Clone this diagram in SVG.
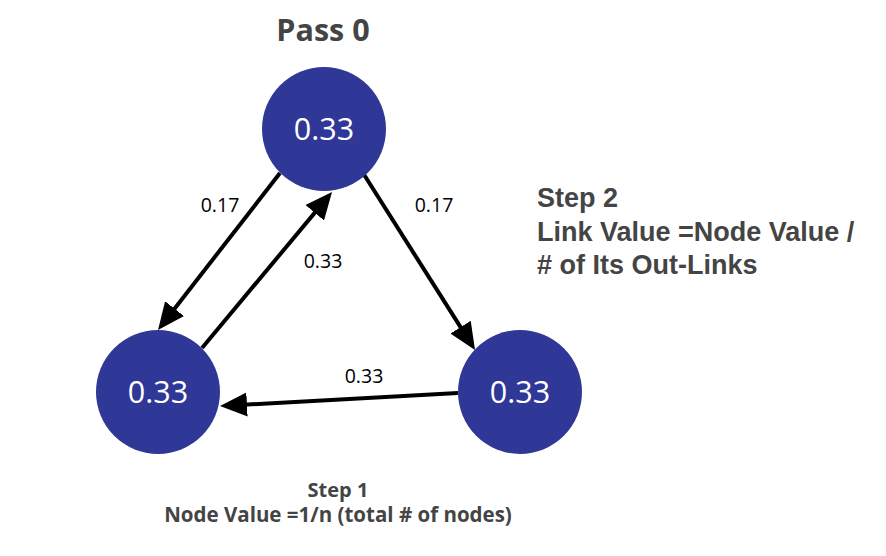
<svg xmlns="http://www.w3.org/2000/svg" width="886" height="556" viewBox="0 0 886 556">
<style>
.node{fill:#2f3797}
.ntext{font-family:"Open Sans",sans-serif;font-size:30.5px;fill:#ffffff;text-anchor:middle}
.edge{stroke:#000;stroke-width:4;fill:none}
.elabel{font-family:"Open Sans",sans-serif;font-size:19.5px;fill:#000;text-anchor:middle}
.title{font-family:"Open Sans",sans-serif;font-weight:bold;fill:#444;text-anchor:middle}
.step2{font-family:"Liberation Sans",Arial,sans-serif;font-weight:bold;font-size:27px;fill:#444}
</style>
<defs>
<marker id="arr" markerUnits="userSpaceOnUse" markerWidth="28" markerHeight="26" viewBox="0 0 28 26" refX="21" refY="13" orient="auto">
<path d="M0,1 L27,13 L0,25 z" fill="#000"/>
</marker>
</defs>
<rect width="886" height="556" fill="#fff"/>
<text class="title" x="323" y="41" font-size="30.5">Pass 0</text>
<g id="connectors">
<line class="edge" x1="280" y1="173" x2="161.7" y2="325.3" marker-end="url(#arr)"/>
<line class="edge" x1="202" y1="348" x2="328.2" y2="196.6" marker-end="url(#arr)"/>
<line class="edge" x1="363" y1="173" x2="471.8" y2="344.9" marker-end="url(#arr)"/>
<line class="edge" x1="458" y1="393" x2="226" y2="405.7" marker-end="url(#arr)"/>
<text class="elabel" x="220" y="212">0.17</text>
<text class="elabel" x="323" y="268">0.33</text>
<text class="elabel" x="434" y="212">0.17</text>
<text class="elabel" x="364" y="383">0.33</text>
</g>
<g id="node-top">
<circle class="node" cx="324" cy="129" r="62"/>
<text class="ntext" x="324" y="140">0.33</text>
</g>
<g id="node-left">
<circle class="node" cx="158" cy="392" r="62"/>
<text class="ntext" x="158" y="403">0.33</text>
</g>
<g id="node-right">
<circle class="node" cx="520" cy="392" r="62"/>
<text class="ntext" x="520" y="403">0.33</text>
</g>
<g id="step2">
<text class="step2" x="537" y="207">Step 2</text>
<text class="step2" x="537" y="241">Link Value =Node Value /</text>
<text class="step2" x="537" y="274"># of Its Out-Links</text>
</g>
<g id="step1">
<text class="title" x="338" y="497" font-size="20">Step 1</text>
<text class="title" x="338" y="522" font-size="20.5">Node Value =1/n (total # of nodes)</text>
</g>
</svg>
